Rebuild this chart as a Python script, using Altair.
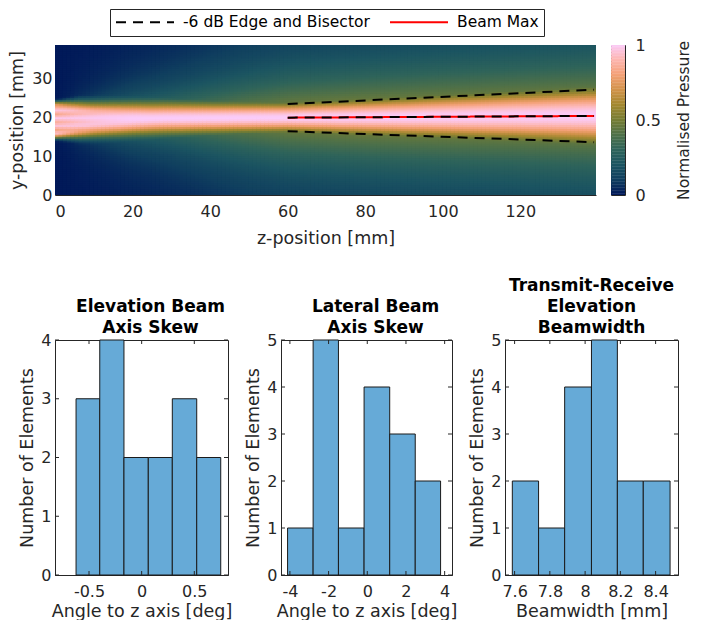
import numpy as np
import pandas as pd
import altair as alt

alt.data_transformers.disable_max_rows()

FONT = "DejaVu Sans"
INK = "#262626"

# ---------------- beam field parameters ----------------
z_knots        = [0, 3, 6, 10, 15, 20, 25, 30, 40, 50, 60, 80, 100, 120, 140]
beam_center    = [19.25, 19.3, 19.35, 19.4, 19.5, 19.6, 19.7, 19.75, 19.8, 19.85, 19.9, 20.0, 20.15, 20.3, 20.4]
beam_halfwidth = [4.6, 4.5, 4.4, 4.15, 4.0, 3.85, 3.75, 3.7, 3.6, 3.55, 3.5, 4.3, 5.1, 5.9, 6.75]
beam_flatness  = [10, 6, 4, 3, 2.5, 2.2, 2, 2, 2, 2, 2, 2, 2, 2, 2]
skirt_level    = [0.08, 0.2, 0.3, 0.35, 0.37, 0.38, 0.39, 0.4, 0.44, 0.47, 0.5, 0.52, 0.53, 0.54, 0.55]
skirt_width    = [1.0, 2.0, 2.8, 3.5, 4.5, 5.5, 6.2, 7.0, 8.5, 10.0, 11.0, 12.0, 12.8, 13.4, 14.0]
ripple_weight  = [1.0, 0.8, 0.6, 0.35, 0.15, 0.0, 0, 0, 0, 0, 0, 0, 0, 0, 0]
ripple_offsets = [-4.5, -3.5, -2.5, -1.5, -0.5, 0.5, 1.5, 2.5, 3.5, 4.5]
ripple_levels  = [0.85, 0.97, 0.82, 0.95, 0.86, 0.98, 0.83, 0.96, 0.84, 0.9]

z_limits = [0, 139.5]
y_limits = [0, 38.6]
z_ticks = [0, 20, 40, 60, 80, 100, 120]
y_ticks = [0, 10, 20, 30]

# -6 dB edges, bisector and beam max (straight lines)
line_z        = [60, 139]
upper_edge_y  = [23.4, 27.1]
lower_edge_y  = [16.4, 13.6]
bisector_y    = [19.9, 20.35]
beam_max_y    = [19.9, 20.35]
series_names  = ["-6 dB Edge and Bisector", "Beam Max"]

# batlow-like colormap
cmap_stops  = [0.0, 0.1, 0.2, 0.3, 0.4, 0.5, 0.6, 0.7, 0.8, 0.9, 1.0]
cmap_colors = ["#011959", "#103F5F", "#1C5561", "#2F645A", "#507148", "#777D33",
               "#A48830", "#D3934C", "#F4A178", "#FDB6B2", "#FACCFA"]

# ---------------- histograms ----------------
h1_edges  = [-0.623, -0.398, -0.168, 0.063, 0.291, 0.523, 0.751]
h1_counts = [3, 4, 2, 2, 3, 2]
h1_xdom   = [-0.823, 0.82]
h1_xticks = [-0.5, 0, 0.5]

h2_edges  = [-4.12, -2.80, -1.49, -0.165, 1.16, 2.48, 3.79]
h2_counts = [1, 5, 1, 4, 3, 2]
h2_xdom   = [-4.46, 4.38]
h2_xticks = [-4, -2, 0, 2, 4]

h3_edges  = [7.587, 7.736, 7.884, 8.036, 8.183, 8.330, 8.482]
h3_counts = [2, 1, 4, 5, 2, 2]
h3_xdom   = [7.5455, 8.527]
h3_xticks = [7.6, 7.8, 8.0, 8.2, 8.4]

# ---------------- build field grid ----------------
dz, dy = 1.0, 0.5
z0 = np.arange(z_limits[0], z_limits[1], dz)
y0 = np.arange(y_limits[0], y_limits[1], dy)
zc = z0 + dz / 2
yc = y0 + dy / 2
c = np.interp(zc, z_knots, beam_center)[:, None]
hw = np.interp(zc, z_knots, beam_halfwidth)[:, None]
nn = np.interp(zc, z_knots, beam_flatness)[:, None]
A = np.interp(zc, z_knots, skirt_level)[:, None]
W = np.interp(zc, z_knots, skirt_width)[:, None]
rw = np.interp(zc, z_knots, ripple_weight)[:, None]
d = yc[None, :] - c
core = 2.0 ** (-(np.abs(d) / hw) ** nn)
rip = np.interp(d, ripple_offsets, ripple_levels)
core = core * (1 - rw * (1 - rip))
skirt = A / (1 + (d / W) ** 2)
val = np.clip(np.maximum(core, skirt), 0, 1)
Z, Y = np.meshgrid(z0, y0, indexing="ij")
field_df = pd.DataFrame({"z": Z.ravel().round(2), "y": Y.ravel().round(2), "v": val.ravel().round(3)})

lines_rows = []
for name, lid, ys in [(series_names[1], "max", beam_max_y),
                      (series_names[0], "upper", upper_edge_y),
                      (series_names[0], "lower", lower_edge_y),
                      (series_names[0], "bisector", bisector_y)]:
    for zz, yy in zip(line_z, ys):
        lines_rows.append({"series": name, "line": lid, "z": zz, "y": yy})
lines_df = pd.DataFrame(lines_rows)

pressure_scale = alt.Scale(domain=cmap_stops, range=cmap_colors, interpolate="rgb")

heat_x_axis = alt.Axis(values=z_ticks, title="z-position [mm]", labelPadding=8, titlePadding=10)
heat_y_axis = alt.Axis(values=y_ticks, title="y-position [mm]", labelPadding=3, titlePadding=5)
heat_x_scale = alt.Scale(domain=z_limits, nice=False, zero=False)
heat_y_scale = alt.Scale(domain=y_limits, nice=False, zero=False)

heat = alt.Chart(field_df).transform_calculate(
    z2="datum.z + 1.5", y2="datum.y + 0.8"
).mark_rect(clip=True, strokeWidth=0).encode(
    x=alt.X("z:Q", scale=heat_x_scale, axis=heat_x_axis),
    x2="z2:Q",
    y=alt.Y("y:Q", scale=heat_y_scale, axis=heat_y_axis),
    y2="y2:Q",
    fill=alt.Fill("v:Q", scale=pressure_scale, legend=None),
)

legend = alt.Legend(title=None, orient="none", legendX=55, legendY=-36, direction="horizontal",
                    symbolType="stroke", symbolSize=3364, symbolStrokeWidth=2, clipHeight=16,
                    labelFont=FONT, labelFontSize=15.5, labelColor="black",
                    strokeColor=INK, fillColor="white", padding=5, columnPadding=19,
                    labelOffset=8, labelLimit=400, cornerRadius=0)

def line_layer(filter_expr):
    return alt.Chart(lines_df).transform_filter(filter_expr).mark_line(strokeWidth=2).encode(
        x=alt.X("z:Q", scale=heat_x_scale, axis=heat_x_axis),
        y=alt.Y("y:Q", scale=heat_y_scale, axis=heat_y_axis),
        detail="line:N",
        stroke=alt.Stroke("series:N", scale=alt.Scale(domain=series_names, range=["black", "red"]), legend=legend),
        strokeDash=alt.StrokeDash("series:N", scale=alt.Scale(domain=series_names, range=[[10, 7], [1, 0]]), legend=legend),
    )

red = line_layer("datum.line == 'max'")
black = line_layer("datum.line != 'max'")

heat_layer = alt.layer(heat, red, black).properties(width=541, height=150)

cb_df = pd.DataFrame({"v": np.round(np.arange(0, 1, 0.01), 3)})
cbar = alt.Chart(cb_df).transform_calculate(v2="datum.v + 0.012").mark_rect(clip=True, strokeWidth=0).encode(
    y=alt.Y("v:Q", scale=alt.Scale(domain=[0, 1], nice=False),
            axis=alt.Axis(orient="right", values=[0, 0.5, 1], title="Normalised Pressure",
                          titleAngle=270, titleBaseline="top", titleFontSize=15.5, domain=False,
                          labelPadding=10, titlePadding=16, labelExpr="format(datum.value, '~g')")),
    y2="v2:Q",
    x=alt.value(0), x2=alt.value(14),
    fill=alt.Fill("v:Q", scale=pressure_scale, legend=None),
).properties(width=14, height=150, view=alt.ViewBackground(stroke=INK, strokeWidth=1))

top = alt.hconcat(heat_layer, cbar, spacing=15, bounds="flush")

# ---------------- histograms ----------------
LABEL_EXPR = "datum.value < 0 ? '-' + format(-datum.value, '~g') : format(datum.value, '~g')"

def hist_panel(edges, counts, xdom, xticks, ymax, title_lines, xtitle, width, dx):
    H = 235
    df = pd.DataFrame({"lo": edges[:-1], "hi": edges[1:], "n": counts})
    xs = alt.Scale(domain=xdom, nice=False, zero=False)
    ys = alt.Scale(domain=[0, ymax], nice=False)
    xa = alt.Axis(values=xticks, title=xtitle, labelExpr=LABEL_EXPR, labelPadding=8, titlePadding=3)
    ya = alt.Axis(values=list(range(ymax + 1)), title="Number of Elements", format="d",
                  labelPadding=4, titlePadding=4)
    bars = alt.Chart(df).mark_rect(fill="#66AAD7", stroke="#1a1a1a", strokeWidth=1).encode(
        x=alt.X("lo:Q", scale=xs, axis=xa),
        x2="hi:Q",
        y=alt.Y("n:Q", scale=ys, axis=ya),
        y2=alt.datum(0),
    )
    xt = pd.DataFrame({"t": xticks})
    yt = pd.DataFrame({"t": list(range(ymax + 1))})
    tick = dict(color=INK, strokeWidth=1)
    xb = alt.Chart(xt).mark_rule(**tick).encode(x=alt.X("t:Q", scale=xs, axis=xa), y=alt.value(H), y2=alt.value(H - 4))
    xtop = alt.Chart(xt).mark_rule(**tick).encode(x=alt.X("t:Q", scale=xs, axis=xa), y=alt.value(0), y2=alt.value(4))
    yl = alt.Chart(yt).mark_rule(**tick).encode(y=alt.Y("t:Q", scale=ys, axis=ya), x=alt.value(0), x2=alt.value(4))
    yr = alt.Chart(yt).mark_rule(**tick).encode(y=alt.Y("t:Q", scale=ys, axis=ya), x=alt.value(width), x2=alt.value(width - 4))
    return alt.layer(bars, xb, xtop, yl, yr).properties(
        width=width, height=H,
        title=alt.Title(title_lines, dx=dx, frame="group", offset=-5),
        view=alt.ViewBackground(stroke=INK, strokeWidth=1),
    )

p1 = hist_panel(h1_edges, h1_counts, h1_xdom, h1_xticks, 4, ["Elevation Beam", "Axis Skew"],
                "Angle to z axis [deg]", 173, 9)
p2 = hist_panel(h2_edges, h2_counts, h2_xdom, h2_xticks, 5, ["Lateral Beam", "Axis Skew"],
                "Angle to z axis [deg]", 171, 9)
p3 = hist_panel(h3_edges, h3_counts, h3_xdom, h3_xticks, 5, ["Transmit-Receive", "Elevation", "Beamwidth"],
                "Beamwidth [mm]", 173, 0)

bottom = alt.hconcat(p1, p2, p3, spacing=53, bounds="flush",
                     title=alt.Title(" ", orient="left", fontSize=10, offset=0))

chart = alt.vconcat(top, bottom, spacing=29).properties(padding=0).configure_axis(
    labelFont=FONT, labelFontSize=16, labelColor=INK,
    titleFont=FONT, titleFontSize=17.5, titleFontWeight="normal", titleColor=INK,
    domainColor=INK, domainWidth=1, grid=False, ticks=False,
).configure_title(
    font=FONT, fontSize=17, fontWeight="bold", color="black", lineHeight=21, anchor="middle",
).configure_view(stroke=None)

chart.save("out.html", embed_options={"renderer": "svg", "actions": False})
